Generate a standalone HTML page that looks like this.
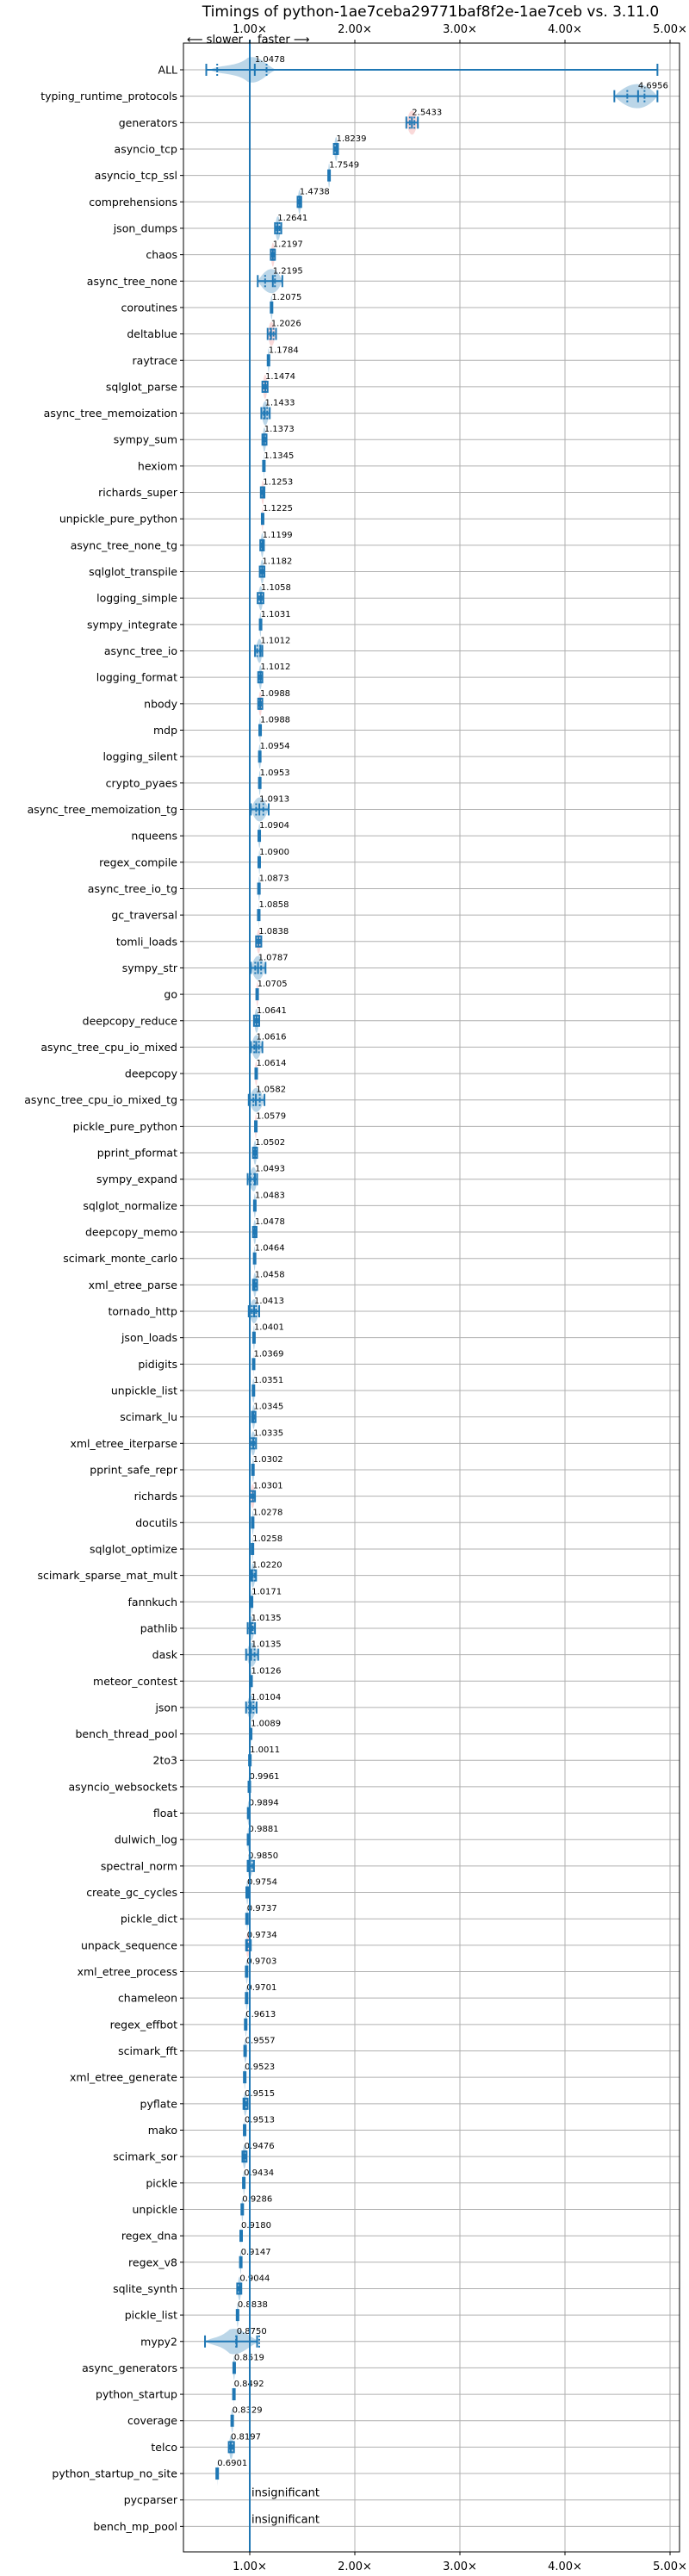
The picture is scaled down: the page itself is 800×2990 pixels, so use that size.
<!DOCTYPE html>
<html><head><meta charset="utf-8"><style>
html,body{margin:0;padding:0;background:#fff}
svg{display:block;font-family:"DejaVu Sans","Liberation Sans",sans-serif}
</style></head><body>
<svg id="chart" width="800" height="2990" viewBox="0 0 800 2990" xmlns="http://www.w3.org/2000/svg">
<text x="500" y="19" font-size="17" text-anchor="middle">Timings of python-1ae7ceba29771baf8f2e-1ae7ceb vs. 3.11.0</text>
<text x="282" y="50" font-size="13" text-anchor="end">⟵ slower</text>
<text x="299" y="50" font-size="13">faster ⟶</text>
<g id="grid"></g><g id="marks"></g><g id="axes"></g>
</svg>
<script>
const names=["ALL","typing_runtime_protocols","generators","asyncio_tcp","asyncio_tcp_ssl","comprehensions","json_dumps","chaos","async_tree_none","coroutines","deltablue","raytrace","sqlglot_parse","async_tree_memoization","sympy_sum","hexiom","richards_super","unpickle_pure_python","async_tree_none_tg","sqlglot_transpile","logging_simple","sympy_integrate","async_tree_io","logging_format","nbody","mdp","logging_silent","crypto_pyaes","async_tree_memoization_tg","nqueens","regex_compile","async_tree_io_tg","gc_traversal","tomli_loads","sympy_str","go","deepcopy_reduce","async_tree_cpu_io_mixed","deepcopy","async_tree_cpu_io_mixed_tg","pickle_pure_python","pprint_pformat","sympy_expand","sqlglot_normalize","deepcopy_memo","scimark_monte_carlo","xml_etree_parse","tornado_http","json_loads","pidigits","unpickle_list","scimark_lu","xml_etree_iterparse","pprint_safe_repr","richards","docutils","sqlglot_optimize","scimark_sparse_mat_mult","fannkuch","pathlib","dask","meteor_contest","json","bench_thread_pool","2to3","asyncio_websockets","float","dulwich_log","spectral_norm","create_gc_cycles","pickle_dict","unpack_sequence","xml_etree_process","chameleon","regex_effbot","scimark_fft","xml_etree_generate","pyflate","mako","scimark_sor","pickle","unpickle","regex_dna","regex_v8","sqlite_synth","pickle_list","mypy2","async_generators","python_startup","coverage","telco","python_startup_no_site","pycparser","bench_mp_pool"];
const medians=[1.0478,4.6956,2.5433,1.8239,1.7549,1.4738,1.2641,1.2197,1.2195,1.2075,1.2026,1.1784,1.1474,1.1433,1.1373,1.1345,1.1253,1.1225,1.1199,1.1182,1.1058,1.1031,1.1012,1.1012,1.0988,1.0988,1.0954,1.0953,1.0913,1.0904,1.0900,1.0873,1.0858,1.0838,1.0787,1.0705,1.0641,1.0616,1.0614,1.0582,1.0579,1.0502,1.0493,1.0483,1.0478,1.0464,1.0458,1.0413,1.0401,1.0369,1.0351,1.0345,1.0335,1.0302,1.0301,1.0278,1.0258,1.0220,1.0171,1.0135,1.0135,1.0126,1.0104,1.0089,1.0011,0.9961,0.9894,0.9881,0.9850,0.9754,0.9737,0.9734,0.9703,0.9701,0.9613,0.9557,0.9523,0.9515,0.9513,0.9476,0.9434,0.9286,0.9180,0.9147,0.9044,0.8838,0.8750,0.8519,0.8492,0.8329,0.8197,0.6901,null,null];
const lows=[0.586,4.47,2.49,1.80,1.745,1.455,1.24,1.20,1.076,1.195,1.17,1.17,1.12,1.11,1.12,1.13,1.105,1.11,1.10,1.095,1.075,1.09,1.05,1.08,1.08,1.09,1.08,1.085,1.01,1.08,1.085,1.08,1.083,1.06,1.01,1.06,1.04,1.01,1.045,0.99,1.045,1.03,0.98,1.035,1.03,1.035,1.03,0.99,1.03,1.035,1.02,1.02,1.0,1.02,1.0,1.02,1.02,1.01,1.01,0.98,0.965,1.005,0.965,1.0,0.998,0.985,0.975,0.975,0.98,0.965,0.97,0.965,0.96,0.96,0.955,0.945,0.945,0.94,0.945,0.93,0.935,0.92,0.915,0.905,0.88,0.875,0.574,0.84,0.847,0.82,0.80,0.688,null,null];
const highs=[4.88,4.88,2.60,1.84,1.765,1.49,1.30,1.24,1.31,1.22,1.25,1.19,1.17,1.19,1.16,1.14,1.14,1.13,1.135,1.14,1.13,1.11,1.12,1.12,1.12,1.105,1.11,1.105,1.18,1.105,1.10,1.10,1.09,1.11,1.15,1.085,1.09,1.12,1.075,1.14,1.07,1.07,1.07,1.06,1.065,1.055,1.07,1.09,1.05,1.04,1.05,1.055,1.06,1.045,1.05,1.04,1.035,1.06,1.03,1.05,1.08,1.02,1.065,1.015,1.005,1.01,1.005,1.0,1.04,0.99,0.985,1.01,0.985,0.985,0.975,0.975,0.96,0.98,0.955,0.97,0.955,0.94,0.92,0.92,0.92,0.895,1.07,0.86,0.851,0.845,0.85,0.692,null,null];
// quartiles for the two wide-distribution rows (others use default placement)
const quartileOverrides={"ALL":[0.69,1.16],"mypy2":[0.87,1.09]};
// visible violin body range where it differs from whisker range
const violinOverrides={"ALL":[0.62,1.25],"mypy2":[0.574,1.1]};
const redRows=["generators","chaos","deltablue","sqlglot_parse","richards_super","unpickle_pure_python","nbody","tomli_loads","go","deepcopy","pickle_pure_python","richards","unpack_sequence"];
const xTicks=[1,2,3,4,5];
const xTickLabels=["1.00×","2.00×","3.00×","4.00×","5.00×"];

const NS="http://www.w3.org/2000/svg";
const L=213,R=789,T=50,B=2962;
const x=v=>290+(v-1)*122;
const y=i=>81+i*30.66;
const BLUE="#1f77b4";
function mk(tag,attrs,parent,txt){const e=document.createElementNS(NS,tag);for(const k in attrs)e.setAttribute(k,attrs[k]);if(txt!==undefined)e.textContent=txt;parent.appendChild(e);return e;}
const grid=document.getElementById('grid'),marks=document.getElementById('marks'),axes=document.getElementById('axes');
xTicks.forEach((t,k)=>{
  const g=mk('line',{x1:x(t),x2:x(t),y1:T,y2:B,stroke:'#b0b0b0','stroke-width':1},grid);
  
  
  const a=mk('text',{x:x(t),y:38,'font-size':13,'text-anchor':'middle'},axes,xTickLabels[k]);
  
  
  const b=mk('text',{x:x(t),y:2983,'font-size':13,'text-anchor':'middle'},axes,xTickLabels[k]);
  
  
  mk('line',{x1:x(t),x2:x(t),y1:B,y2:B+4,stroke:'#000'},axes);
  mk('line',{x1:x(t),x2:x(t),y1:T,y2:T-4,stroke:'#000'},axes);
});
names.forEach((n,i)=>{
  const yy=y(i);
  const g=mk('line',{x1:L,x2:R,y1:yy,y2:yy,stroke:'#b0b0b0','stroke-width':1},grid);
  
  
  mk('line',{x1:L-4,x2:L,y1:yy,y2:yy,stroke:'#000'},axes);
  const t=mk('text',{x:L-7,y:yy+4.5,'font-size':12.5,'text-anchor':'end'},axes,n);
  
  
  const m=medians[i];
  if(m===null){
    const s=mk('text',{x:x(1)+2,y:yy-4,'font-size':13},marks,'insignificant');
    
    
    return;
  }
  const lo=lows[i],hi=highs[i];
  const red=redRows.includes(n);
  const grp=mk('g',{},marks);
  
  
  const cx=x(m),x0=x(lo),x1=x(hi),vh=14;
  const vr=violinOverrides[n]||[lo,hi];
  const v0=x(vr[0]),v1=x(vr[1]);
  if(violinOverrides[n]){
    const pk=x(m);
    mk('path',{d:`M${v0},${yy} C${v0+10},${yy-6} ${pk-20},${yy-3} ${pk-8},${yy-vh} C${pk+5},${yy-vh-4} ${pk+12},${yy-6} ${v1},${yy} C${pk+12},${yy+6} ${pk+5},${yy+vh+4} ${pk-8},${yy+vh} C${pk-20},${yy+3} ${v0+10},${yy+6} ${v0},${yy}Z`,fill:BLUE,'fill-opacity':0.3},grp);
  } else {
    mk('path',{d:`M${v0},${yy} Q${cx},${yy-2*vh} ${v1},${yy} Q${cx},${yy+2*vh} ${v0},${yy}Z`,fill:red?'#f08080':BLUE,'fill-opacity':0.3},grp);
  }
  const w=x1-x0;
  if(w<4){
    mk('rect',{x:cx-2,y:yy-7,width:Math.max(4,w),height:14,fill:BLUE},grp);
  } else {
    mk('line',{x1:x0,x2:x1,y1:yy,y2:yy,stroke:BLUE,'stroke-width':2},grp);
    [x0,x1].forEach(xx=>mk('line',{x1:xx,x2:xx,y1:yy-7,y2:yy+7,stroke:BLUE,'stroke-width':2},grp));
    mk('line',{x1:cx,x2:cx,y1:yy-7,y2:yy+7,stroke:BLUE,'stroke-width':2},grp);
    const qo=quartileOverrides[n];
    const qs=qo?[x(qo[0]),x(qo[1])]:[x0+w*0.3,x0+w*0.7];
    qs.forEach(xx=>mk('line',{x1:xx,x2:xx,y1:yy-7,y2:yy+7,stroke:BLUE,'stroke-width':2,'stroke-dasharray':'2,2'},grp));
  }
  const a=mk('text',{x:cx,y:yy-9,'font-size':10},marks,m.toFixed(4));
  
  
});
const ref=mk('line',{x1:x(1),x2:x(1),y1:T-4,y2:B,stroke:BLUE,'stroke-width':2},marks);


const fr=mk('rect',{x:L,y:T,width:R-L,height:B-T,fill:'none',stroke:'#000','stroke-width':1},axes);


</script>
</body></html>
